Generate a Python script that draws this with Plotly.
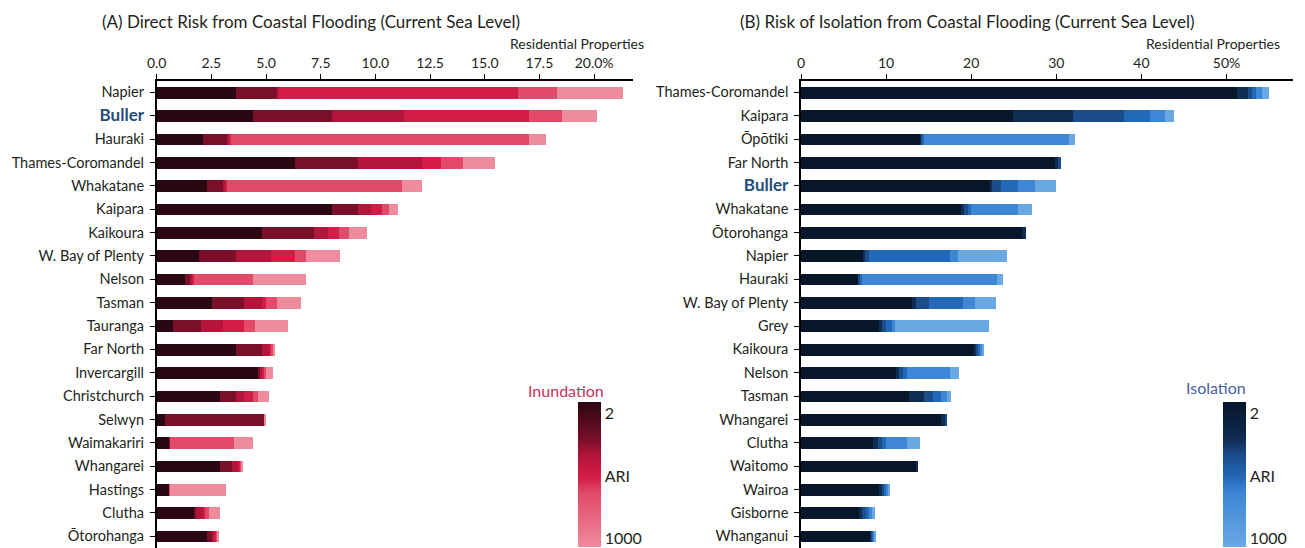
import plotly.graph_objects as go

# ARI (annual recurrence interval, years) levels used for the stacked segments
ari_levels = [2, 10, 20, 50, 100, 1000]

# ---- Panel A: direct inundation risk (% of residential properties, cumulative by ARI) ----
inund_regions = ["Napier", "Buller", "Hauraki", "Thames-Coromandel", "Whakatane", "Kaipara",
                 "Kaikoura", "W. Bay of Plenty", "Nelson", "Tasman", "Tauranga", "Far North",
                 "Invercargill", "Christchurch", "Selwyn", "Waimakariri", "Whangarei",
                 "Hastings", "Clutha", "Ōtorohanga"]
inund_ari2 = [3.6, 4.4, 2.1, 6.3, 2.3, 8.0, 4.8, 1.9, 1.3, 2.5, 0.75, 3.6, 4.6, 2.9, 0.35, 0.55, 2.9, 0.55, 1.7, 2.3]
inund_ari10 = [5.5, 8.0, 3.2, 9.2, 3.0, 9.2, 7.2, 3.6, 1.5, 4.0, 2.0, 4.8, 4.7, 3.6, 4.9, 0.6, 3.45, 0.55, 1.8, 2.5]
inund_ari20 = [5.6, 11.3, 3.3, 12.1, 3.1, 9.8, 7.8, 5.2, 1.6, 4.8, 3.0, 5.1, 4.8, 4.0, 4.9, 0.6, 3.7, 0.55, 2.1, 2.65]
inund_ari50 = [16.5, 17.0, 3.4, 13.0, 3.2, 10.3, 8.3, 6.3, 1.7, 5.0, 4.0, 5.25, 4.9, 4.4, 4.9, 0.6, 3.8, 0.55, 2.2, 2.7]
inund_ari100 = [18.3, 18.5, 17.0, 14.0, 11.2, 10.6, 8.8, 6.8, 4.4, 5.5, 4.5, 5.3, 5.0, 4.6, 4.9, 3.5, 3.85, 0.6, 2.4, 2.75]
inund_ari1000 = [21.3, 20.1, 17.8, 15.45, 12.1, 11.0, 9.6, 8.35, 6.8, 6.6, 6.0, 5.4, 5.3, 5.1, 4.95, 4.4, 3.9, 3.15, 2.9, 2.8]

# ---- Panel B: risk of isolation (% of residential properties, cumulative by ARI) ----
isol_regions = ["Thames-Coromandel", "Kaipara", "Ōpōtiki", "Far North", "Buller", "Whakatane",
                "Ōtorohanga", "Napier", "Hauraki", "W. Bay of Plenty", "Grey", "Kaikoura",
                "Nelson", "Tasman", "Whangarei", "Clutha", "Waitomo", "Wairoa", "Gisborne",
                "Whanganui"]
isol_ari2 = [51.2, 24.9, 14.1, 29.8, 22.2, 18.8, 26.0, 7.25, 6.75, 13.1, 9.2, 20.3, 11.2, 12.7, 16.5, 8.5, 13.5, 9.2, 6.8, 8.15]
isol_ari10 = [52.5, 32.0, 14.2, 30.3, 22.5, 19.2, 26.4, 7.5, 6.8, 13.5, 9.5, 20.6, 11.5, 14.5, 17.0, 9.0, 13.8, 9.5, 7.2, 8.3]
isol_ari20 = [53.0, 38.0, 14.3, 30.5, 23.5, 19.6, 26.4, 8.0, 7.0, 15.0, 10.0, 20.9, 12.0, 15.5, 17.1, 9.5, 13.8, 9.8, 7.6, 8.4]
isol_ari50 = [53.5, 41.0, 14.5, 30.5, 25.5, 20.0, 26.4, 17.5, 7.2, 19.0, 10.7, 21.1, 12.4, 16.5, 17.1, 10.0, 13.8, 10.0, 8.0, 8.5]
isol_ari100 = [54.2, 42.8, 31.5, 30.5, 27.5, 25.5, 26.4, 18.5, 23.0, 20.5, 11.0, 21.3, 17.5, 17.2, 17.1, 12.5, 13.8, 10.3, 8.4, 8.6]
isol_ari1000 = [55.0, 43.8, 32.2, 30.5, 30.0, 27.1, 26.4, 24.2, 23.7, 22.9, 22.1, 21.5, 18.6, 17.6, 17.1, 14.0, 13.8, 10.5, 8.7, 8.7]

# axis tick labels
inund_ticks = [0, 2.5, 5, 7.5, 10, 12.5, 15, 17.5, 20]
inund_ticktext = ["0.0", "2.5", "5.0", "7.5", "10.0", "12.5", "15.0", "17.5", "20.0%"]
isol_ticks = [0, 10, 20, 30, 40, 50]
isol_ticktext = ["0", "10", "20", "30", "40", "50%"]

# ---- styling ----
W, H = 1305, 548
FONT = "Lato, 'Open Sans', sans-serif"
TXT = "#231f20"
HILITE = "#1f4e79"
red_cols = ["#2b0711", "#7a0f2a", "#b3153b", "#d41d46", "#e24a69", "#ee8b9c"]
blue_cols = ["#071629", "#0f2c52", "#1a4d8a", "#2468b8", "#3d87d6", "#6aa8e4"]
cb_pos = [0.0, 0.26, 0.37, 0.52, 0.63, 1.0]

def px_x(p):
    return p / W

def px_y(p):
    return 1 - p / H

top_axis = 80.7
ydom = [0, px_y(top_axis)]
a_left, a_right = 156.7, 633.0
b_left, b_right = 801.0, 1292.7
a_scale, b_scale = 21.87, 8.51


def ticklabels(regions):
    out = []
    for r in regions:
        if r == "Buller":
            out.append(f"<b><span style='color:{HILITE};font-size:17px'>{r}</span></b>")
        else:
            out.append(r)
    return out


fig = go.Figure()

inund_cum = [inund_ari2, inund_ari10, inund_ari20, inund_ari50, inund_ari100, inund_ari1000]
isol_cum = [isol_ari2, isol_ari10, isol_ari20, isol_ari50, isol_ari100, isol_ari1000]


def add_stack(cum, regions, colors, xa, ya):
    prev = [0.0] * len(regions)
    for lvl, vals, col in zip(ari_levels, cum, colors):
        seg = [max(v - p, 0) for v, p in zip(vals, prev)]
        fig.add_trace(go.Bar(
            x=seg, y=list(range(len(regions))), orientation="h",
            marker=dict(color=col, line=dict(width=0)), width=0.5,
            name=f"ARI {lvl}", showlegend=False, xaxis=xa, yaxis=ya,
            hovertemplate="%{x:.2f}%<extra>ARI " + str(lvl) + "</extra>",
        ))
        prev = vals


add_stack(inund_cum, inund_regions, red_cols, "x", "y")
add_stack(isol_cum, isol_regions, blue_cols, "x2", "y2")


def colorbar_trace(colors, xa, ya, x0):
    scale = [[1 - p, c] for p, c in zip(cb_pos, colors)][::-1]
    return go.Scatter(
        x=[None], y=[None], mode="markers", xaxis=xa, yaxis=ya, showlegend=False,
        marker=dict(
            color=[0, 1], cmin=0, cmax=1, colorscale=scale, showscale=True,
            colorbar=dict(
                x=px_x(x0), xanchor="left", xpad=0, ypad=0,
                y=px_y(547), yanchor="bottom",
                lenmode="pixels", len=145, thickness=23, outlinewidth=0,
                tickvals=[0.92, 0.49, 0.06], ticktext=["2", "ARI", "1000"],
                ticks="", ticklabelposition="outside",
                tickfont=dict(family=FONT, size=16, color=TXT),
            ),
        ),
    )


fig.add_trace(colorbar_trace(red_cols, "x", "y", 578))
fig.add_trace(colorbar_trace(blue_cols, "x2", "y2", 1222.5))

axis_common = dict(showgrid=False, zeroline=False, showline=True, linecolor="black",
                   linewidth=1.5, ticks="outside", ticklen=5, tickwidth=1.2,
                   tickcolor="black", automargin=False, fixedrange=True)

fig.update_layout(
    width=W, height=H, margin=dict(l=0, r=0, t=0, b=0),
    plot_bgcolor="white", paper_bgcolor="white", barmode="stack", bargap=0,
    font=dict(family=FONT, color=TXT, size=14),
    xaxis=dict(domain=[px_x(a_left), px_x(a_right)], range=[0, (a_right - a_left) / a_scale],
               side="top", anchor="y", tickvals=inund_ticks, ticktext=inund_ticktext,
               tickfont=dict(size=14), **axis_common),
    yaxis=dict(domain=ydom, range=[19.5, -0.5], anchor="x",
               tickvals=list(range(len(inund_regions))), ticktext=ticklabels(inund_regions),
               tickfont=dict(size=14.5), ticklabelstandoff=3, **axis_common),
    xaxis2=dict(domain=[px_x(b_left), px_x(b_right)], range=[0, (b_right - b_left) / b_scale],
                side="top", anchor="y2", tickvals=isol_ticks, ticktext=isol_ticktext,
                tickfont=dict(size=14), **axis_common),
    yaxis2=dict(domain=ydom, range=[19.5, -0.5], anchor="x2",
                tickvals=list(range(len(isol_regions))), ticktext=ticklabels(isol_regions),
                tickfont=dict(size=14.5), ticklabelstandoff=3, **axis_common),
)

annots = [
    dict(x=px_x(311), y=px_y(21), text="(A) Direct Risk from Coastal Flooding (Current Sea Level)",
         xanchor="center", font=dict(size=17)),
    dict(x=px_x(968), y=px_y(21), text="(B) Risk of Isolation from Coastal Flooding (Current Sea Level)",
         xanchor="center", font=dict(size=17)),
    dict(x=px_x(646), y=px_y(43.5), text="Residential Properties", xanchor="right", font=dict(size=14)),
    dict(x=px_x(1282), y=px_y(43.5), text="Residential Properties", xanchor="right", font=dict(size=14)),
    dict(x=px_x(606), y=px_y(390), text="Inundation", xanchor="right", font=dict(size=16, color="#c8325c")),
    dict(x=px_x(1248), y=px_y(387), text="Isolation", xanchor="right", font=dict(size=16, color="#4a5fa0")),
]
for a in annots:
    a.update(xref="paper", yref="paper", yanchor="middle", showarrow=False)
    fig.add_annotation(**a)

fig.write_html("out.html")
